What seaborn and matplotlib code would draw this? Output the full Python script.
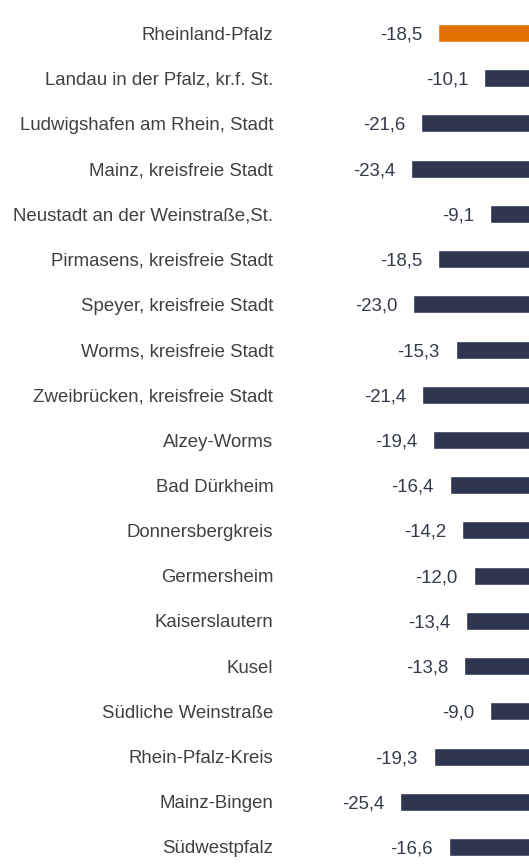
import matplotlib
matplotlib.use("Agg")
import matplotlib.pyplot as plt
import seaborn as sns
import pandas as pd

regions = [
    "Rheinland-Pfalz",
    "Landau in der Pfalz, kr.f. St.",
    "Ludwigshafen am Rhein, Stadt",
    "Mainz, kreisfreie Stadt",
    "Neustadt an der Weinstraße,St.",
    "Pirmasens, kreisfreie Stadt",
    "Speyer, kreisfreie Stadt",
    "Worms, kreisfreie Stadt",
    "Zweibrücken, kreisfreie Stadt",
    "Alzey-Worms",
    "Bad Dürkheim",
    "Donnersbergkreis",
    "Germersheim",
    "Kaiserslautern",
    "Kusel",
    "Südliche Weinstraße",
    "Rhein-Pfalz-Kreis",
    "Mainz-Bingen",
    "Südwestpfalz",
]
change = [-18.5, -10.1, -21.6, -23.4, -9.1, -18.5, -23.0, -15.3, -21.4,
          -19.4, -16.4, -14.2, -12.0, -13.4, -13.8, -9.0, -19.3, -25.4, -16.6]

df = pd.DataFrame({"region": regions, "change": change})

sns.set_theme(style="white")
plt.rcParams["font.family"] = ["Liberation Sans", "DejaVu Sans"]

W, H, DPI = 529, 868, 100
FS = 13.4
fig = plt.figure(figsize=(W / DPI, H / DPI), dpi=DPI)
# axes run a little past the right edge so the zero line sits off-canvas
left_px, right_px = 290, 540
top_px, bottom_px = 10.4, 869.6
ax = fig.add_axes([left_px / W, 1 - bottom_px / H,
                   (right_px - left_px) / W, (bottom_px - top_px) / H])

palette = ["#e07000"] + ["#2e3650"] * (len(regions) - 1)
sns.barplot(data=df, x="change", y="region", hue="region", palette=palette,
            orient="h", width=0.40, legend=False, ax=ax, saturation=1)

ax.set_xlim(-45.4, 0)
ax.set_ylim(len(regions) - 0.5, -0.5)

# value labels just left of each bar's end
for i, v in enumerate(change):
    ax.annotate(f"{v:.1f}".replace(".", ","), xy=(v, i), xytext=(-11.5, 0),
                textcoords="offset points", ha="right", va="center_baseline",
                fontsize=FS, color="#333a4a")

ax.set_xlabel("")
ax.set_ylabel("")
ax.set_xticks([])
ax.tick_params(axis="y", length=0, pad=12, labelsize=FS, labelcolor="#404040")
for s in ax.spines.values():
    s.set_visible(False)

fig.savefig("out.png", dpi=DPI)
